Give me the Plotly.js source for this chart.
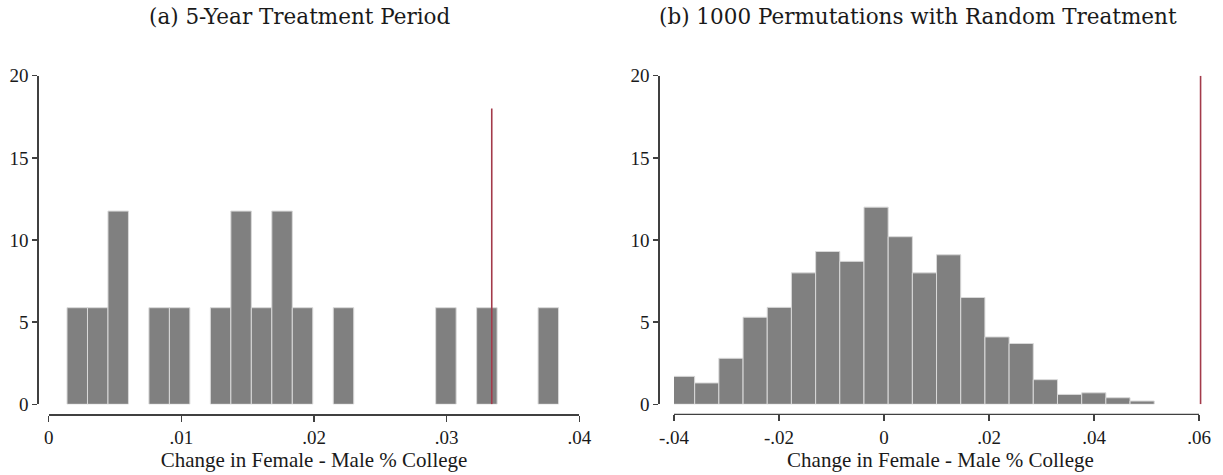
<!DOCTYPE html>
<html>
<head>
<meta charset="utf-8">
<script src="https://cdn.plot.ly/plotly-3.0.1.min.js"></script>
<style>
  html, body { margin: 0; padding: 0; background: #ffffff; }
  #chart { width: 1223px; height: 475px; }
</style>
</head>
<body>
<div id="chart"></div>
<script>
// Panel (a): 5-year treatment period, percent of estimates per bin
const binWidthA = 0.001544;
const binCentersA = [0.002152, 0.003696, 0.00524, 0.008328, 0.009872, 0.01296, 0.014504,
                     0.016048, 0.017592, 0.019136, 0.022224, 0.029944, 0.033032, 0.037664];
const percentA = [5.88, 5.88, 11.76, 5.88, 5.88, 5.88, 11.76,
                  5.88, 11.76, 5.88, 5.88, 5.88, 5.88, 5.88];
const actualEstimateA = [0.0334, 0.0334];
const actualLineSpanA = [0, 18];

// Panel (b): 1000 permutations with random treatment
const binWidthB = 0.004607;
const binCentersB = [-0.03837, -0.03376, -0.02915, -0.02454, -0.01994, -0.01533, -0.01072,
                     -0.00612, -0.00151, 0.00310, 0.00771, 0.01231, 0.01692, 0.02153,
                     0.02613, 0.03074, 0.03535, 0.03996, 0.04456, 0.04917];
const percentB = [1.7, 1.3, 2.8, 5.3, 5.9, 8.0, 9.3, 8.7, 12.0, 10.2,
                  8.0, 9.1, 6.5, 4.1, 3.7, 1.5, 0.6, 0.7, 0.4, 0.2];
const actualEstimateB = [0.0603, 0.0603];
const actualLineSpanB = [0, 20];

// Axis ticks
const yTicks = [0, 5, 10, 15, 20];
const xTicksA = [0, 0.01, 0.02, 0.03, 0.04];
const xTickTextA = ['0', '.01', '.02', '.03', '.04'];
const xTicksB = [-0.04, -0.02, 0, 0.02, 0.04, 0.06];
const xTickTextB = ['-.04', '-.02', '0', '.02', '.04', '.06'];

const titleA = '(a) 5-Year Treatment Period';
const titleB = '(b) 1000 Permutations with Random Treatment';
const xTitle = 'Change in Female - Male % College';

// ---- drawing ----
const W = 1223, H = 475;
const px = v => v / W;            // horizontal pixel -> paper fraction
const py = v => (H - v) / H;      // vertical pixel (from top) -> paper fraction

const serif = '"Liberation Serif", "DejaVu Serif", serif';
const titleSerif = '"DejaVu Serif", "Liberation Serif", serif';
const barColor = '#808080';
const barEdge = '#d9d9d9';
const lineColor = '#a33a4a';
const axisColor = '#404040';
const textColor = '#1a1a1a';

const traces = [
  {
    type: 'bar', x: binCentersA, y: percentA, width: binWidthA,
    xaxis: 'x', yaxis: 'y',
    marker: { color: barColor, line: { color: barEdge, width: 1 } },
    hoverinfo: 'skip'
  },
  {
    type: 'scatter', mode: 'lines', x: actualEstimateA, y: actualLineSpanA,
    xaxis: 'x', yaxis: 'y',
    line: { color: lineColor, width: 1.6 }, hoverinfo: 'skip'
  },
  {
    type: 'bar', x: binCentersB, y: percentB, width: binWidthB,
    xaxis: 'x2', yaxis: 'y2',
    marker: { color: barColor, line: { color: barEdge, width: 1 } },
    hoverinfo: 'skip'
  },
  {
    type: 'scatter', mode: 'lines', x: actualEstimateB, y: actualLineSpanB,
    xaxis: 'x2', yaxis: 'y2',
    line: { color: lineColor, width: 1.6 }, hoverinfo: 'skip'
  }
];

const tickFont = { family: serif, size: 19, color: textColor };

const commonY = {
  range: [0, 20], tickmode: 'array', tickvals: yTicks,
  showgrid: false, zeroline: false, showline: true, linecolor: axisColor, linewidth: 1.3,
  ticks: 'outside', ticklen: 5, tickwidth: 1.3, tickcolor: axisColor,
  tickfont: tickFont, anchor: 'free', fixedrange: true
};
const commonX = {
  showgrid: false, zeroline: false,
  ticks: 'outside', ticklen: 6, tickwidth: 1.3, tickcolor: axisColor,
  tickfont: tickFont, anchor: 'free', position: py(414.3), fixedrange: true,
  title: { text: xTitle, font: { family: serif, size: 21, color: textColor }, standoff: 1 }
};

// Panel (b) axis extends a hair past .06 so the reference line stays visible;
// its baseline is drawn as a shape spanning exactly -.04 to .06.
const xBLeftPx = 674, xBRightPx = 1199;
const pxPerUnitB = (xBRightPx - xBLeftPx) / 0.10;
const xBRange = [-0.04, 0.0615];

const layout = {
  width: W, height: H,
  margin: { l: 0, r: 0, t: 0, b: 0 },
  paper_bgcolor: '#ffffff', plot_bgcolor: 'rgba(0,0,0,0)',
  showlegend: false, bargap: 0,
  font: { family: serif, color: textColor },
  xaxis: Object.assign({}, commonX, {
    domain: [px(48.7), px(579.3)], range: [0, 0.04],
    tickmode: 'array', tickvals: xTicksA, ticktext: xTickTextA,
    showline: true, linecolor: axisColor, linewidth: 1.3
  }),
  yaxis: Object.assign({}, commonY, {
    domain: [py(404.3), py(75.7)], position: px(37.3)
  }),
  xaxis2: Object.assign({}, commonX, {
    domain: [px(xBLeftPx), px(xBLeftPx + (xBRange[1] - xBRange[0]) * pxPerUnitB)],
    range: xBRange,
    tickmode: 'array', tickvals: xTicksB, ticktext: xTickTextB,
    showline: false
  }),
  yaxis2: Object.assign({}, commonY, {
    domain: [py(404.3), py(75.7)], position: px(658.3)
  }),
  shapes: [
    {
      type: 'line', xref: 'x2', yref: 'paper',
      x0: xTicksB[0], x1: xTicksB[xTicksB.length - 1],
      y0: py(414.3), y1: py(414.3),
      line: { color: axisColor, width: 1.3 }
    }
  ],
  annotations: [
    {
      text: titleA, xref: 'paper', yref: 'paper', x: px(300), y: py(17),
      xanchor: 'center', yanchor: 'middle', showarrow: false,
      font: { family: titleSerif, size: 21.5, color: textColor }
    },
    {
      text: titleB, xref: 'paper', yref: 'paper', x: px(918), y: py(17),
      xanchor: 'center', yanchor: 'middle', showarrow: false,
      font: { family: titleSerif, size: 21.5, color: textColor }
    }
  ]
};

Plotly.newPlot('chart', traces, layout, { staticPlot: true, displayModeBar: false });
</script>
</body>
</html>
